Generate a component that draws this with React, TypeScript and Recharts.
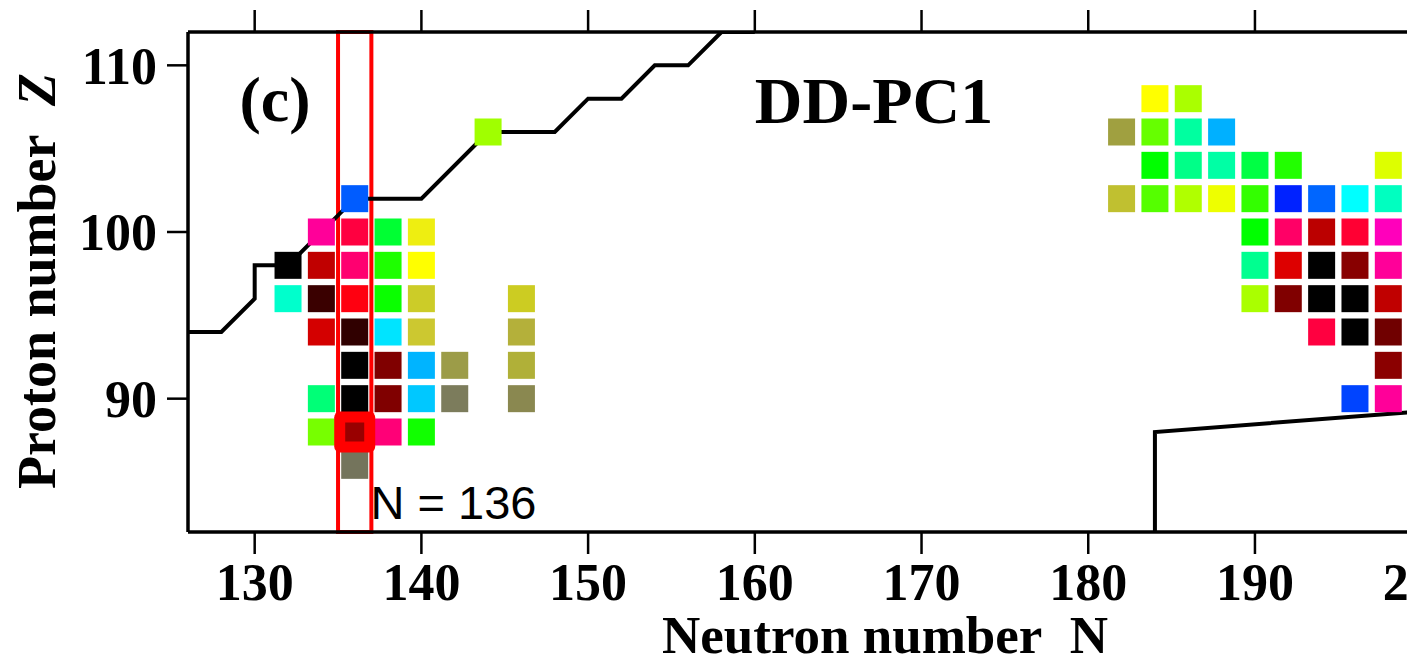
import React from 'react';
import { ScatterChart, Scatter, XAxis, YAxis, ReferenceArea, ReferenceDot } from 'recharts';

const SERIF = '"Liberation Serif", "Times New Roman", Times, serif';
const SANS = '"Liberation Sans", Arial, Helvetica, sans-serif';

// ---- axes ----
const xTicks = [130, 140, 150, 160, 170, 180, 190, 200];
const yTicks = [90, 100, 110];
const xDomain: [number, number] = [126, 202];
const yDomain: [number, number] = [82, 112];

// ---- nuclei cells: [N, Z, colour] ----
const leftCells: Array<[number, number, string]> = [
  [132, 98, '#000000'],
  [132, 96, '#00FFCC'],
  [134, 100, '#FF0099'],
  [134, 98, '#C00000'],
  [134, 96, '#3A0000'],
  [134, 94, '#D40000'],
  [134, 90, '#00FF77'],
  [134, 88, '#77FF00'],
  [136, 102, '#005CFF'],
  [136, 100, '#FF0040'],
  [136, 98, '#FF0070'],
  [136, 96, '#FF0010'],
  [136, 94, '#300000'],
  [136, 92, '#000000'],
  [136, 90, '#000000'],
  [136, 88, '#990000'],
  [136, 86, '#74745C'],
  [138, 100, '#00FF33'],
  [138, 98, '#1EFF00'],
  [138, 96, '#0AFF00'],
  [138, 94, '#00E4FF'],
  [138, 92, '#800000'],
  [138, 90, '#800000'],
  [138, 88, '#FF0077'],
  [140, 100, '#EEEE11'],
  [140, 98, '#FFFF00'],
  [140, 96, '#CCCC28'],
  [140, 94, '#CCC830'],
  [140, 92, '#00B4FF'],
  [140, 90, '#00C8FF'],
  [140, 88, '#11FF00'],
  [142, 92, '#9C9C48'],
  [142, 90, '#7C7C5C'],
  [144, 106, '#A0FF00'],
  [146, 96, '#CCCC22'],
  [146, 94, '#B4B03A'],
  [146, 92, '#B0B038'],
  [146, 90, '#8A8850'],
];

const rightCells: Array<[number, number, string]> = [
  [182, 106, '#A0A040'],
  [182, 102, '#C0C030'],
  [184, 108, '#FFFF00'],
  [184, 106, '#66FF00'],
  [184, 104, '#00FF00'],
  [184, 102, '#55FF00'],
  [186, 108, '#AAFF00'],
  [186, 106, '#00FFA0'],
  [186, 104, '#00FF88'],
  [186, 102, '#B0FF00'],
  [188, 106, '#00B0FF'],
  [188, 104, '#00FFA5'],
  [188, 102, '#EEFF00'],
  [190, 104, '#00FF44'],
  [190, 102, '#33FF00'],
  [190, 100, '#00FF00'],
  [190, 98, '#00FF90'],
  [190, 96, '#AAFF00'],
  [192, 104, '#22FF00'],
  [192, 102, '#0022FF'],
  [192, 100, '#FF0066'],
  [192, 98, '#DD0000'],
  [192, 96, '#800000'],
  [194, 102, '#0066FF'],
  [194, 100, '#BB0000'],
  [194, 98, '#000000'],
  [194, 96, '#000000'],
  [194, 94, '#FF0040'],
  [196, 102, '#00FFFF'],
  [196, 100, '#FF0033'],
  [196, 98, '#880000'],
  [196, 96, '#000000'],
  [196, 94, '#000000'],
  [196, 90, '#0044FF'],
  [198, 104, '#DDFF00'],
  [198, 102, '#00FFC0'],
  [198, 100, '#FF00BB'],
  [198, 98, '#FF0099'],
  [198, 96, '#C00000'],
  [198, 94, '#700000'],
  [198, 92, '#8B0000'],
  [198, 90, '#FF0099'],
];

// ---- boundary lines ----
const upperLineN = [126, 128, 130, 130, 132, 136, 140, 144, 148, 150, 152, 154, 156, 158, 160];
const upperLineZ = [94, 94, 96, 98, 98, 102, 102, 106, 106, 108, 108, 110, 110, 112, 112];
const lowerLineN = [184, 184, 202];
const lowerLineZ = [82, 88, 89.4];

// ---- highlights ----
const highlightNucleus = [{ N: 136, Z: 88, color: '#990000' }];
const highlightColumn = { from: 135, to: 137 };

// ---- annotations ----
const panelLabel = { text: '(c)', N: 131.22, Z: 106.66 };
const modelLabel = { text: 'DD-PC1', N: 167.15, Z: 106.54 };
const columnLabel = { text: 'N = 136', N: 136.95, Z: 82.78 };

const cells = [...leftCells, ...rightCells].map(([N, Z, color]) => ({ N, Z, color }));
const upperLine = upperLineN.map((N, i) => ({ N, Z: upperLineZ[i] }));
const lowerLine = lowerLineN.map((N, i) => ({ N, Z: lowerLineZ[i] }));

const CELL = 27;

function CellShape(props: any) {
  const { cx, cy, payload } = props;
  if (cx == null || cy == null) return <g />;
  return <rect x={cx - CELL / 2} y={cy - CELL / 2} width={CELL} height={CELL} fill={payload.color} />;
}

function HighlightShape(props: any) {
  const { cx, cy, payload } = props;
  if (cx == null || cy == null) return <g />;
  const O = 41;
  const I = 19;
  return (
    <g>
      <rect x={cx - O / 2} y={cy - O / 2} width={O} height={O} rx={6} ry={6} fill="#FF0000" />
      <rect x={cx - I / 2} y={cy - I / 2} width={I} height={I} fill={payload.color} />
    </g>
  );
}

const NoShape = () => <g />;

const textContent = (text: string, style: any) => (props: any) => {
  const vb = props && props.viewBox ? props.viewBox : { x: 0, y: 0, width: 0, height: 0 };
  const x = (vb.x ?? 0) + (vb.width ?? 0) / 2;
  const y = (vb.y ?? 0) + (vb.height ?? 0) / 2;
  return (
    <text x={x} y={y} {...style}>
      {text}
    </text>
  );
};

const tickStyle = { fill: '#000', fontFamily: SERIF, fontWeight: 700, fontSize: 52 };

const yTitle = (props: any) => {
  const vb = props && props.viewBox ? props.viewBox : null;
  const x = vb ? vb.x + 55 : 55;
  const y = vb ? vb.y + 457 : 489;
  return (
    <text x={x} y={y} transform={`rotate(-90, ${x}, ${y})`} textAnchor="start" fontFamily={SERIF} fontWeight={700} fontSize={54} fill="#000">
      {'Proton number '}
      <tspan dx={16} fontStyle="italic">Z</tspan>
    </text>
  );
};

const xTitle = (props: any) => {
  const vb = props && props.viewBox ? props.viewBox : null;
  const x = vb ? vb.x + 474 : 662;
  const y = vb ? vb.y + 121 : 653;
  return (
    <text x={x} y={y} textAnchor="start" fontFamily={SERIF} fontWeight={700} fontSize={53} fill="#000">
      {'Neutron number '}
      <tspan dx={15}>N</tspan>
    </text>
  );
};

export default function App() {
  return (
    <div style={{ position: 'fixed', left: 0, top: 0, width: 1407, height: 661, overflow: 'hidden', background: '#fff' }}>
      <ScatterChart width={1465} height={661} margin={{ top: 0, right: 10, bottom: 0, left: 0 }}>
        <XAxis
          xAxisId="b"
          dataKey="N"
          type="number"
          orientation="bottom"
          domain={xDomain}
          ticks={xTicks}
          interval={0}
          allowDataOverflow
          height={129}
          tickSize={22}
          tickMargin={9}
          axisLine={{ stroke: '#000', strokeWidth: 3.5 }}
          tickLine={{ stroke: '#000', strokeWidth: 2.5 }}
          tick={tickStyle}
          label={xTitle}
        />
        <XAxis
          xAxisId="t"
          dataKey="N"
          type="number"
          orientation="top"
          domain={xDomain}
          ticks={xTicks}
          interval={0}
          allowDataOverflow
          height={32}
          tickSize={22}
          axisLine={{ stroke: '#000', strokeWidth: 3.5 }}
          tickLine={{ stroke: '#000', strokeWidth: 2.5 }}
          tick={NoShape}
        />
        <YAxis
          yAxisId="l"
          dataKey="Z"
          type="number"
          orientation="left"
          domain={yDomain}
          ticks={yTicks}
          interval={0}
          allowDataOverflow
          width={188}
          tickSize={21}
          tickMargin={10}
          axisLine={{ stroke: '#000', strokeWidth: 3.5 }}
          tickLine={{ stroke: '#000', strokeWidth: 2.5 }}
          tick={tickStyle}
          label={yTitle}
        />
        <Scatter
          xAxisId="b"
          yAxisId="l"
          data={upperLine}
          fill="#000"
          stroke="#000"
          strokeWidth={4}
          line={{ stroke: '#000', strokeWidth: 4 }}
          shape={NoShape}
          isAnimationActive={false}
        />
        <Scatter
          xAxisId="b"
          yAxisId="l"
          data={lowerLine}
          fill="#000"
          stroke="#000"
          strokeWidth={4}
          line={{ stroke: '#000', strokeWidth: 4 }}
          shape={NoShape}
          isAnimationActive={false}
        />
        <Scatter xAxisId="b" yAxisId="l" data={cells} fill="#000" shape={CellShape} isAnimationActive={false} />
        <ReferenceArea
          xAxisId="b"
          yAxisId="l"
          x1={highlightColumn.from}
          x2={highlightColumn.to}
          y1={yDomain[0]}
          y2={yDomain[1]}
          fill="none"
          fillOpacity={0}
          stroke="#FF0000"
          strokeWidth={4}
          strokeOpacity={1}
          ifOverflow="visible"
        />
        <Scatter xAxisId="b" yAxisId="l" data={highlightNucleus} fill="#FF0000" shape={HighlightShape} isAnimationActive={false} />
        <ReferenceDot
          xAxisId="b"
          yAxisId="l"
          x={panelLabel.N}
          y={panelLabel.Z}
          r={1}
          fill="none"
          stroke="none"
          label={textContent(panelLabel.text, { textAnchor: 'middle', fontFamily: SERIF, fontWeight: 700, fontSize: 64, fill: '#000' })}
        />
        <ReferenceDot
          xAxisId="b"
          yAxisId="l"
          x={modelLabel.N}
          y={modelLabel.Z}
          r={1}
          fill="none"
          stroke="none"
          label={textContent(modelLabel.text, { textAnchor: 'middle', fontFamily: SERIF, fontWeight: 700, fontSize: 66, fill: '#000' })}
        />
        <ReferenceDot
          xAxisId="b"
          yAxisId="l"
          x={columnLabel.N}
          y={columnLabel.Z}
          r={1}
          fill="none"
          stroke="none"
          label={textContent(columnLabel.text, { textAnchor: 'start', fontFamily: SANS, fontWeight: 400, fontSize: 47, fill: '#000' })}
        />
      </ScatterChart>
    </div>
  );
}
